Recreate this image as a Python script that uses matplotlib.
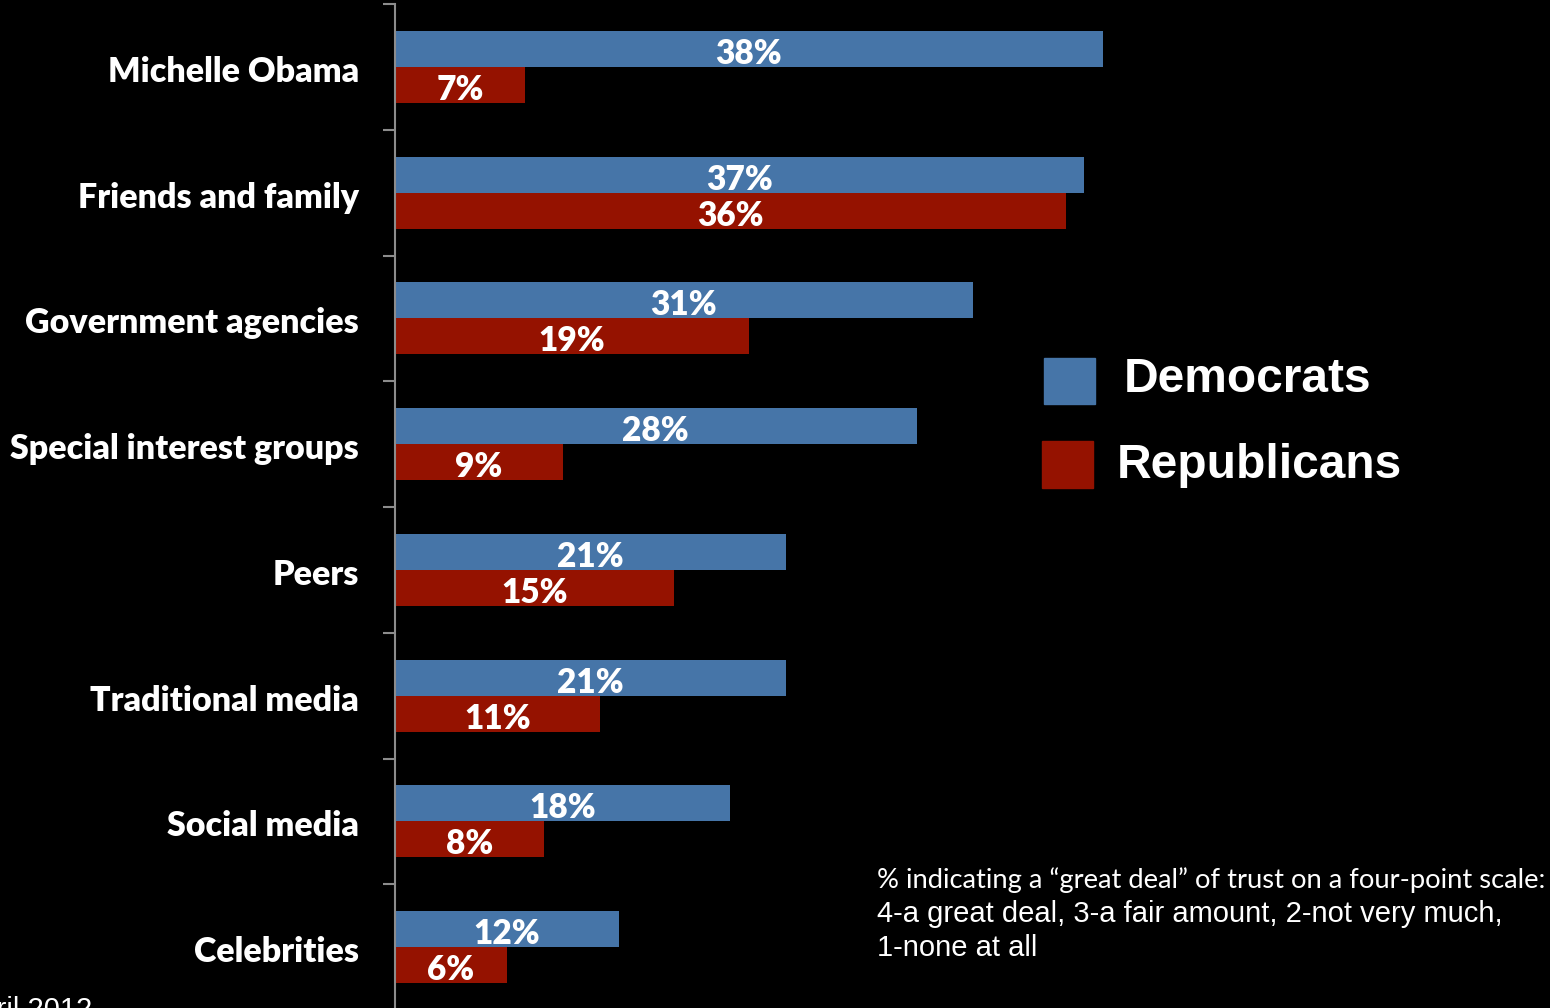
import matplotlib.pyplot as plt
import matplotlib.transforms as mtransforms
import numpy as np

categories = ["Michelle Obama", "Friends and family", "Government agencies",
              "Special interest groups", "Peers", "Traditional media",
              "Social media", "Celebrities"]
democrats = [38, 37, 31, 28, 21, 21, 18, 12]
republicans = [7, 36, 19, 9, 15, 11, 8, 6]

blue = "#4675a8"
red = "#951200"

fig = plt.figure(figsize=(15.5, 10.08), dpi=100, facecolor="black")
ax = fig.add_axes([395 / 1550, -2 / 1008, 1155 / 1550, 1006 / 1008])
ax.set_facecolor("black")

y = np.arange(len(categories))
h = 0.286
ax.barh(y - h / 2, democrats, height=h, color=blue)
ax.barh(y + h / 2, republicans, height=h, color=red)

lab = dict(color="white", fontsize=24, fontweight="heavy", family="Lato",
           ha="center", va="center")
for i in range(len(categories)):
    ax.text(democrats[i] / 2, y[i] - h / 2 + 0.04, f"{democrats[i]}%", **lab)
    ax.text(republicans[i] / 2, y[i] + h / 2 + 0.04, f"{republicans[i]}%", **lab)

ax.set_xlim(0, 62)
ax.set_ylim(len(categories) - 0.5, -0.5)

# labels on category centres, tick marks on the boundaries
ax.set_yticks(y)
ax.set_yticklabels(categories, color="white", fontsize=24.5,
                   fontweight="heavy", family="Lato")
ax.tick_params(axis="y", which="major", length=0, pad=26)
shift = mtransforms.ScaledTranslation(0, -2 / 100, fig.dpi_scale_trans)
for t in ax.get_yticklabels():
    t.set_transform(t.get_transform() + shift)
ax.set_yticks(np.arange(-0.5, len(categories)), minor=True)
ax.tick_params(axis="y", which="minor", length=9, width=1.5, color="#8c8c8c")
ax.set_xticks([])

for s in ["top", "right", "bottom"]:
    ax.spines[s].set_visible(False)
ax.spines["left"].set_color("#8c8c8c")
ax.spines["left"].set_linewidth(1.5)

# legend
fig.patches.append(plt.Rectangle((1044 / 1550, 1 - 404 / 1008), 51 / 1550, 46 / 1008,
                                 transform=fig.transFigure, color=blue))
fig.patches.append(plt.Rectangle((1042 / 1550, 1 - 488 / 1008), 51 / 1550, 47 / 1008,
                                 transform=fig.transFigure, color=red))
fig.text(1124 / 1550, 1 - 380 / 1008, "Democrats", color="white", fontsize=34.5,
         fontweight="bold", family="Liberation Sans", va="center")
fig.text(1117 / 1550, 1 - 466 / 1008, "Republicans", color="white", fontsize=34.5,
         fontweight="bold", family="Liberation Sans", va="center")

# footnote
fig.text(877 / 1550, 1 - 880 / 1008,
         "% indicating a \u201cgreat deal\u201d of trust on a four-point scale:",
         color="white", fontsize=19.7, family="Lato", va="center")
fig.text(877 / 1550, 1 - 914 / 1008, "4-a great deal, 3-a fair amount, 2-not very much,",
         color="white", fontsize=21, family="Liberation Sans", va="center")
fig.text(877 / 1550, 1 - 948 / 1008, "1-none at all",
         color="white", fontsize=21, family="Liberation Sans", va="center")

fig.text(92 / 1550, 1 - 996 / 1008, "April 2012", color="white", fontsize=21,
         family="Liberation Sans", ha="right", va="top")

fig.savefig("out.png", dpi=100, facecolor="black")
